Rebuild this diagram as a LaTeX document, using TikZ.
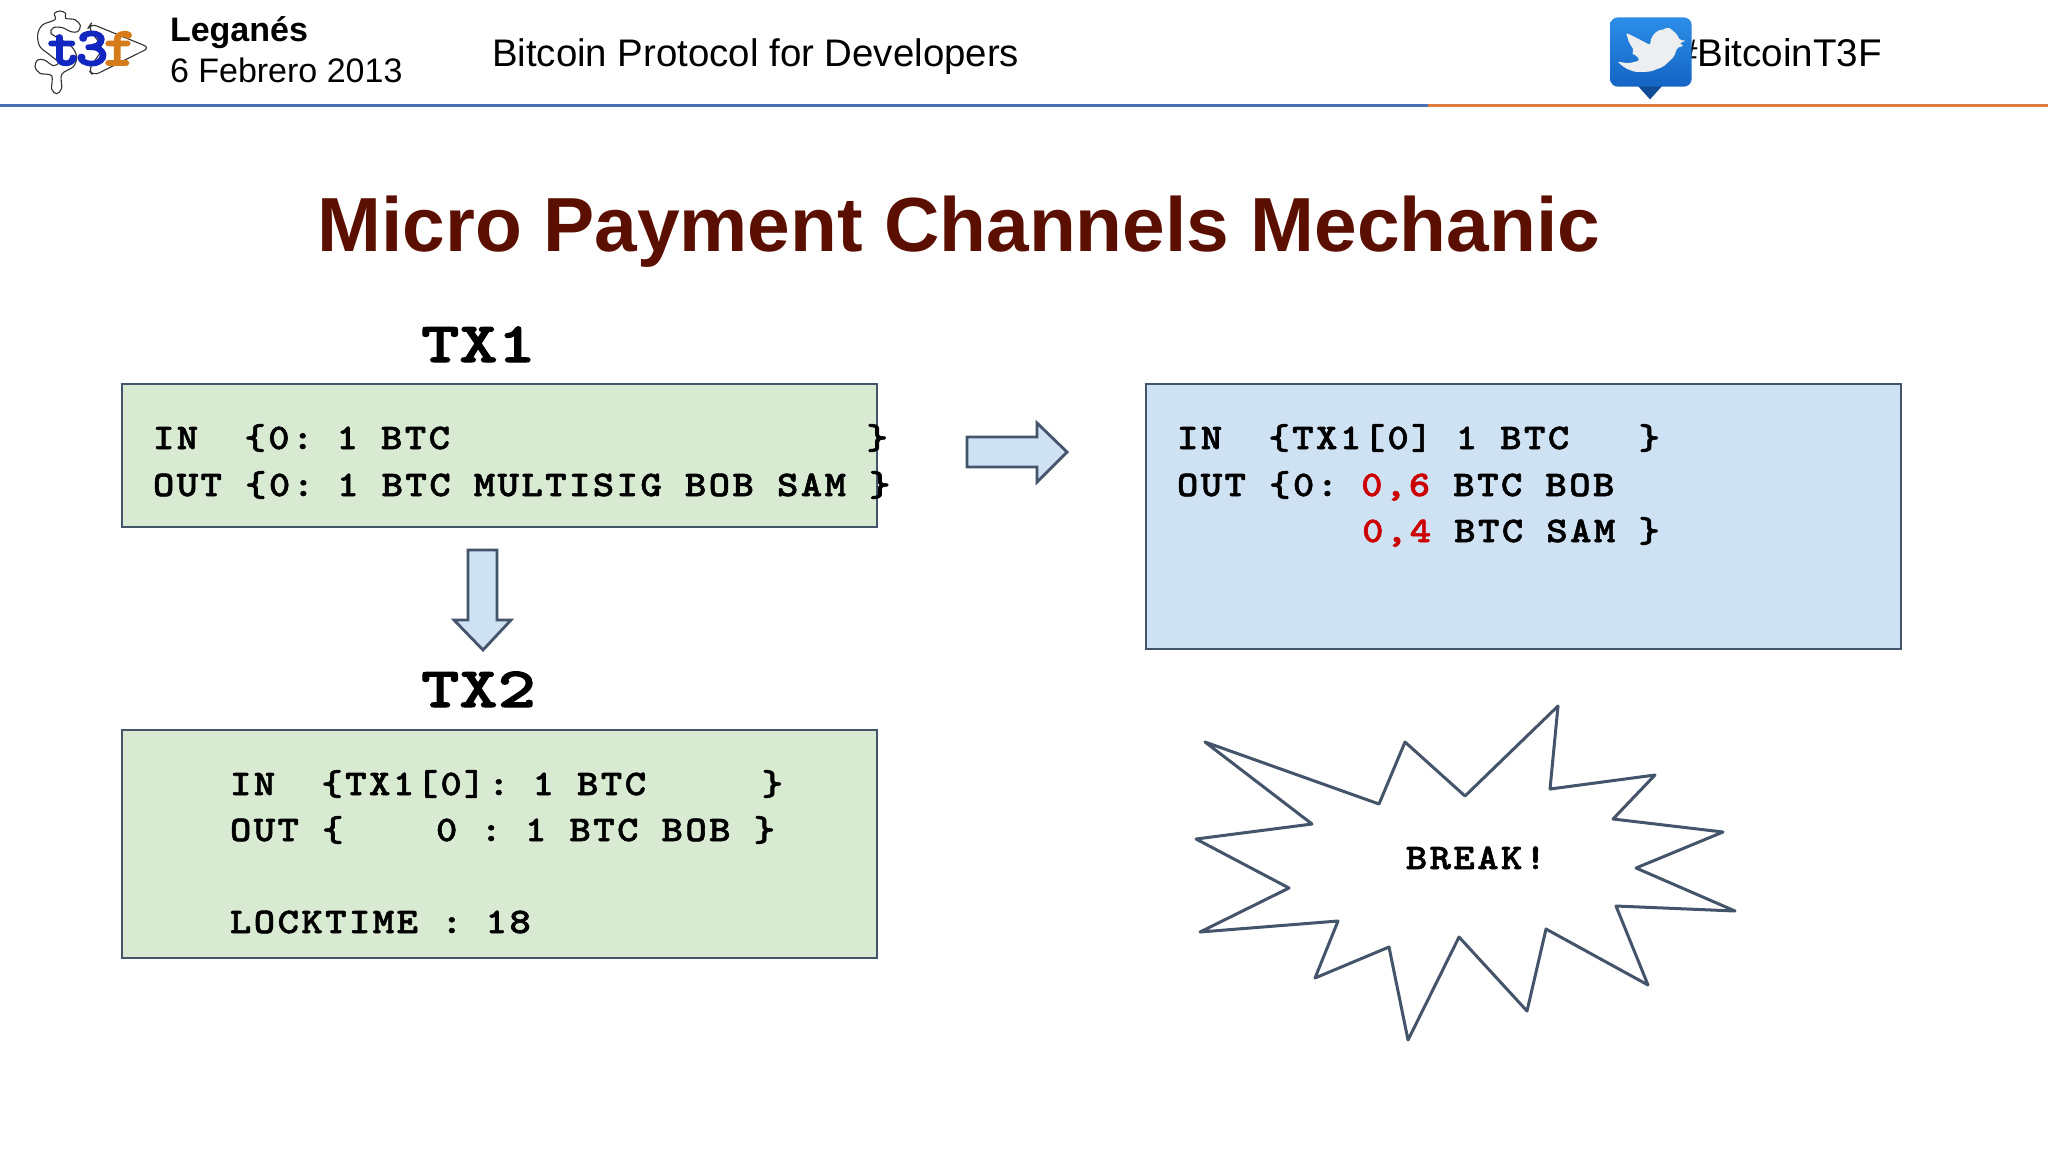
\documentclass[tikz,border=0pt]{standalone}
\usepackage{fontspec}
\setmainfont{Liberation Sans}
\newfontfamily\cour[FakeStretch=1.13,FakeBold=1.6,LetterSpace=6.8]{lmmonolt10-bold.otf}
\newfontfamily\courb[FakeStretch=1.28,FakeBold=1.8]{lmmonolt10-bold.otf}
\newfontfamily\courl[FakeStretch=1.15,FakeBold=3]{lmmonolt10-bold.otf}
\newcommand\q{\hspace{11.57pt}}
\definecolor{edge}{HTML}{44546A}
\definecolor{grn}{HTML}{D9EAD3}
\definecolor{blu}{HTML}{CFE2F3}
\definecolor{ttl}{HTML}{5B0F00}
\definecolor{redt}{HTML}{CC0000}
\definecolor{logob}{HTML}{1226C0}
\definecolor{logoo}{HTML}{D67B1A}
\tikzset{
  box/.style={draw=edge,line width=1.4pt},
  code/.style={anchor=base west,inner sep=0pt,outer sep=0pt,font=\cour\fontsize{18}{18}\selectfont},
  big/.style={anchor=base west,inner sep=0pt,outer sep=0pt,font=\courb\fontsize{28.5}{28.5}\selectfont},
  logot/.style={anchor=base,inner sep=0pt,outer sep=0pt,font=\courl\fontsize{27}{27}\selectfont},
  hdr/.style={anchor=base west,inner sep=0pt,outer sep=0pt,text=black},
  blockarrow/.style={draw=edge,fill=blu,line width=1.4pt,line join=miter},
  logoline/.style={draw=black!80,line width=0.55pt,fill=white}
}
\begin{document}
\begin{tikzpicture}[x=0.5pt,y=-0.5pt]
\useasboundingbox[fill=white] (0,0) rectangle (2048,1152);
% header rule
\fill[fill={rgb,255:red,74;green,111;blue,181}] (0,103.5) rectangle (1428,106.5);
\fill[fill={rgb,255:red,226;green,125;blue,64}] (1428,103.5) rectangle (2048,106.5);
% logo (reference zoom: x=25+X/3, y=5+Y/3)
\begin{scope}[shift={(25,5)},x=0.1667pt,y=-0.1667pt]
\draw[logoline,rounded corners=3pt] (198,56) -- (374,128) -- (205,212) -- (190,195) -- (235,130) -- (190,68) -- cycle;
\draw[logoline] plot[smooth cycle,tension=.55] coordinates {(90,44) (88,25) (105,18) (122,25) (122,40) (150,44) (166,62) (158,80) (138,80) (112,68) (85,68) (78,85) (110,105) (140,125) (155,155) (145,185) (110,208) (110,250) (95,266) (80,252) (80,212) (45,205) (30,185) (38,165) (58,165) (85,182) (100,172) (75,150) (45,125) (38,90) (52,60)};
\end{scope}
\node[logot,text=logob] (lt) at (64,65) {t};
\node[logot,text=logob] (l3) at (92,65) {3};
\node[logot,text=logoo] (lf) at (120,65) {f};
\node[hdr,font=\bfseries\fontsize{17}{17}\selectfont] (place) at (170,41) {Leganés};
\node[hdr,font=\fontsize{17}{17}\selectfont] (date) at (170,82) {6 Febrero 2013};
\node[hdr,font=\fontsize{19.2}{19.2}\selectfont] (course) at (492,66) {Bitcoin Protocol for Developers};
\node[hdr,font=\fontsize{19.3}{19.3}\selectfont,anchor=base east] (tag) at (1882,66) {\#BitcoinT3F};
% twitter icon (reference zoom: x=1600+X/3, y=10+Y/3)
\begin{scope}[shift={(1600,10)},x=0.1667pt,y=-0.1667pt]
\fill[fill={rgb,255:red,16;green,75;blue,150}] (112,226) -- (150,268) -- (188,226) -- cycle;
\shade[top color={rgb,255:red,44;green,142;blue,232},bottom color={rgb,255:red,20;green,100;blue,196},rounded corners=4pt] (30,22) rectangle (275,230);
\fill[fill={rgb,255:red,236;green,238;blue,240},rounded corners=1pt] (52,155) -- (85,160) -- (118,152) -- (110,136) -- (95,132) -- (102,120) -- (88,100) -- (78,68) -- (110,84) -- (150,105) -- (155,80) -- (172,62) -- (196,57) -- (204,51) -- (216,60) -- (232,74) -- (238,90) -- (258,92) -- (238,100) -- (252,108) -- (232,112) -- (222,140) -- (190,170) -- (150,185) -- (105,186) -- (75,174) -- cycle;
\end{scope}
% title
\node[anchor=base west,inner sep=0pt,text=ttl,font=\bfseries\fontsize{38.35}{38.35}\selectfont] (title) at (317,251) {Micro Payment Channels Mechanic};
% boxes
\draw[box,fill=grn] (122,384) rectangle (877,527);
\draw[box,fill=grn] (122,730) rectangle (877,958);
\draw[box,fill=blu] (1146,384) rectangle (1901,649);
\node[big] (tx1) at (421,362) {TX1};
\node[big] (tx2) at (421,707) {TX2};
\node[code] (a1) at (153,449) {IN\q\q\{0:\q 1\q BTC\q\q\q\q\q\q\q\q\q\q\q\q\q\q\q\q\q\q\}};
\node[code] (a2) at (153,496) {OUT\q\{0:\q 1\q BTC\q MULTISIG\q BOB\q SAM\q\}};
\node[code] (b1) at (230,795) {IN\q\q\{TX1[0]:\q 1\q BTC\q\q\q\q\q\}};
\node[code] (b2) at (230,841) {OUT\q\{\q\q\q\q 0\q :\q 1\q BTC\q BOB\q\}};
\node[code] (b3) at (230,933) {LOCKTIME\q:\q 18};
\node[code] (c1) at (1177,449) {IN\q\q\{TX1[0]\q 1\q BTC\q\q\q\}};
\node[code] (c2) at (1177,496) {OUT\q\{0:\q\textcolor{redt}{0,6}\q BTC\q BOB};
\node[code] (c3) at (1177,542) {\q\q\q\q\q\q\q\q\textcolor{redt}{0,4}\q BTC\q SAM\q\}};
% arrows
\draw[blockarrow] (967,437) -- (1037,437) -- (1037,423) -- (1067,452) -- (1037,482) -- (1037,467) -- (967,467) -- cycle;
\draw[blockarrow] (468,550) -- (497,550) -- (497,620) -- (511,620) -- (483,650) -- (454,620) -- (468,620) -- cycle;
% burst
\draw[draw=edge,line width=1.5pt,line join=round] (1205,742) -- (1379,804) -- (1405,742) -- (1465,796) -- (1558,706) -- (1550,789) -- (1655,775) -- (1613,819) -- (1723,832) -- (1636,868) -- (1735,911) -- (1616,906) -- (1648,985) -- (1546,929) -- (1527,1011) -- (1459,937) -- (1408,1040) -- (1389,947) -- (1315,978) -- (1338,921) -- (1200,932) -- (1289,888) -- (1196,839) -- (1312,824) -- cycle;
\node[code,anchor=base] (brk) at (1476,869) {BREAK!};
\end{tikzpicture}
\end{document}
